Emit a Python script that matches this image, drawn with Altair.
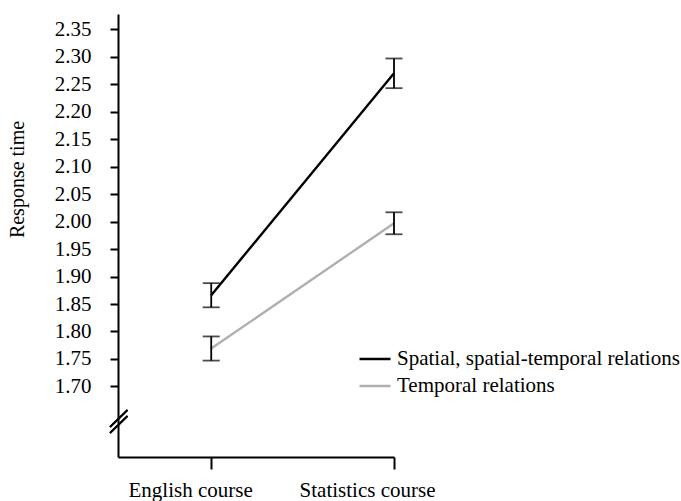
import altair as alt
import pandas as pd

# Mean response time per course, with standard errors
courses = ["English course", "Statistics course"]
series = ["Spatial, spatial-temporal relations", "Temporal relations"]
spatial_mean = [1.866, 2.270]
spatial_se = [0.022, 0.027]
temporal_mean = [1.769, 1.997]
temporal_se = [0.022, 0.020]
y_ticks = [1.70, 1.75, 1.80, 1.85, 1.90, 1.95, 2.00, 2.05, 2.10, 2.15, 2.20, 2.25, 2.30, 2.35]

rows = []
for name, means, ses in [(series[0], spatial_mean, spatial_se),
                         (series[1], temporal_mean, temporal_se)]:
    for c, m, s in zip(courses, means, ses):
        rows.append({"course": c, "relation": name, "mean": m,
                     "lo": m - s, "hi": m + s})
df = pd.DataFrame(rows)
course_df = pd.DataFrame({"course": courses})

FONT = "Liberation Serif"
FS = 21

x_scale = alt.Scale(type="point", padding=0.255, align=1)
x_axis = alt.Axis(
    title=None, labels=False, tickSize=12, tickWidth=2, tickColor="black",
    domainColor="black", domainWidth=2, grid=False,
)
y_scale = alt.Scale(domain=[1.5715, 2.378], nice=False, zero=False)
y_axis = alt.Axis(
    title="Response time", values=y_ticks, format=".2f", labelOverlap=False,
    labelFont=FONT, labelFontSize=FS, labelColor="black", labelPadding=19,
    tickSize=8, tickWidth=2, tickColor="black",
    domainColor="black", domainWidth=2, grid=False,
    titleFont=FONT, titleFontSize=20, titleFontWeight="normal",
    titleColor="black", titleAngle=270, titleX=-94.5, titleY=165,
    titleAlign="center", titleBaseline="alphabetic",
)


def xc():
    return alt.X("course:N", sort=courses, scale=x_scale, axis=x_axis)


def yq(field):
    return alt.Y(field, type="quantitative", scale=y_scale, axis=y_axis)


lines = alt.Chart(df).mark_line(strokeWidth=2.4).encode(
    x=xc(),
    y=yq("mean"),
    color=alt.Color(
        "relation:N",
        scale=alt.Scale(domain=series, range=["black", "#b0b0b0"]),
        legend=alt.Legend(
            title=None, orient="none", legendX=240, legendY=328,
            symbolType="stroke", symbolSize=961, symbolStrokeWidth=2.5,
            labelFont=FONT, labelFontSize=FS, labelColor="black",
            labelOffset=5, rowPadding=-4, labelLimit=400,
        ),
    ),
    detail="relation:N",
)

bars = alt.Chart(df).mark_rule(color="black", strokeWidth=1.8).encode(
    x=xc(), y=yq("lo"), y2="hi:Q",
)
caps_lo = alt.Chart(df).mark_tick(color="black", size=17, thickness=1.8).encode(
    x=xc(), y=yq("lo"))
caps_hi = alt.Chart(df).mark_tick(color="black", size=17, thickness=1.8).encode(
    x=xc(), y=yq("hi"))

# course names under the x axis, set slightly left of their ticks
x_labels = alt.Chart(course_df).mark_text(
    font=FONT, fontSize=FS, color="black", align="right",
    baseline="alphabetic", dx=41.5,
).encode(
    x=xc(),
    y=alt.value(483),
    text="course:N",
)

# axis break marks near the bottom of the y axis
brk1 = alt.Chart(course_df).mark_rule(color="black", strokeWidth=1.8).encode(
    x=alt.value(-8), x2=alt.value(9.5), y=alt.value(413), y2=alt.value(396))
brk2 = alt.Chart(course_df).mark_rule(color="black", strokeWidth=1.8).encode(
    x=alt.value(-8), x2=alt.value(9.5), y=alt.value(419), y2=alt.value(402))

chart = alt.layer(lines, bars, caps_lo, caps_hi, x_labels, brk1, brk2).properties(
    width=276, height=443,
    background="white",
    autosize=alt.AutoSizeParams(type="none"),
    padding={"left": 118, "top": 14, "right": 287, "bottom": 44},
).configure_view(stroke=None).configure_axis(
    grid=False, labelFont=FONT, titleFont=FONT
).configure_text(font=FONT).configure_legend(labelFont=FONT)

chart.save("out.html", embed_options={"renderer": "svg", "actions": False})
